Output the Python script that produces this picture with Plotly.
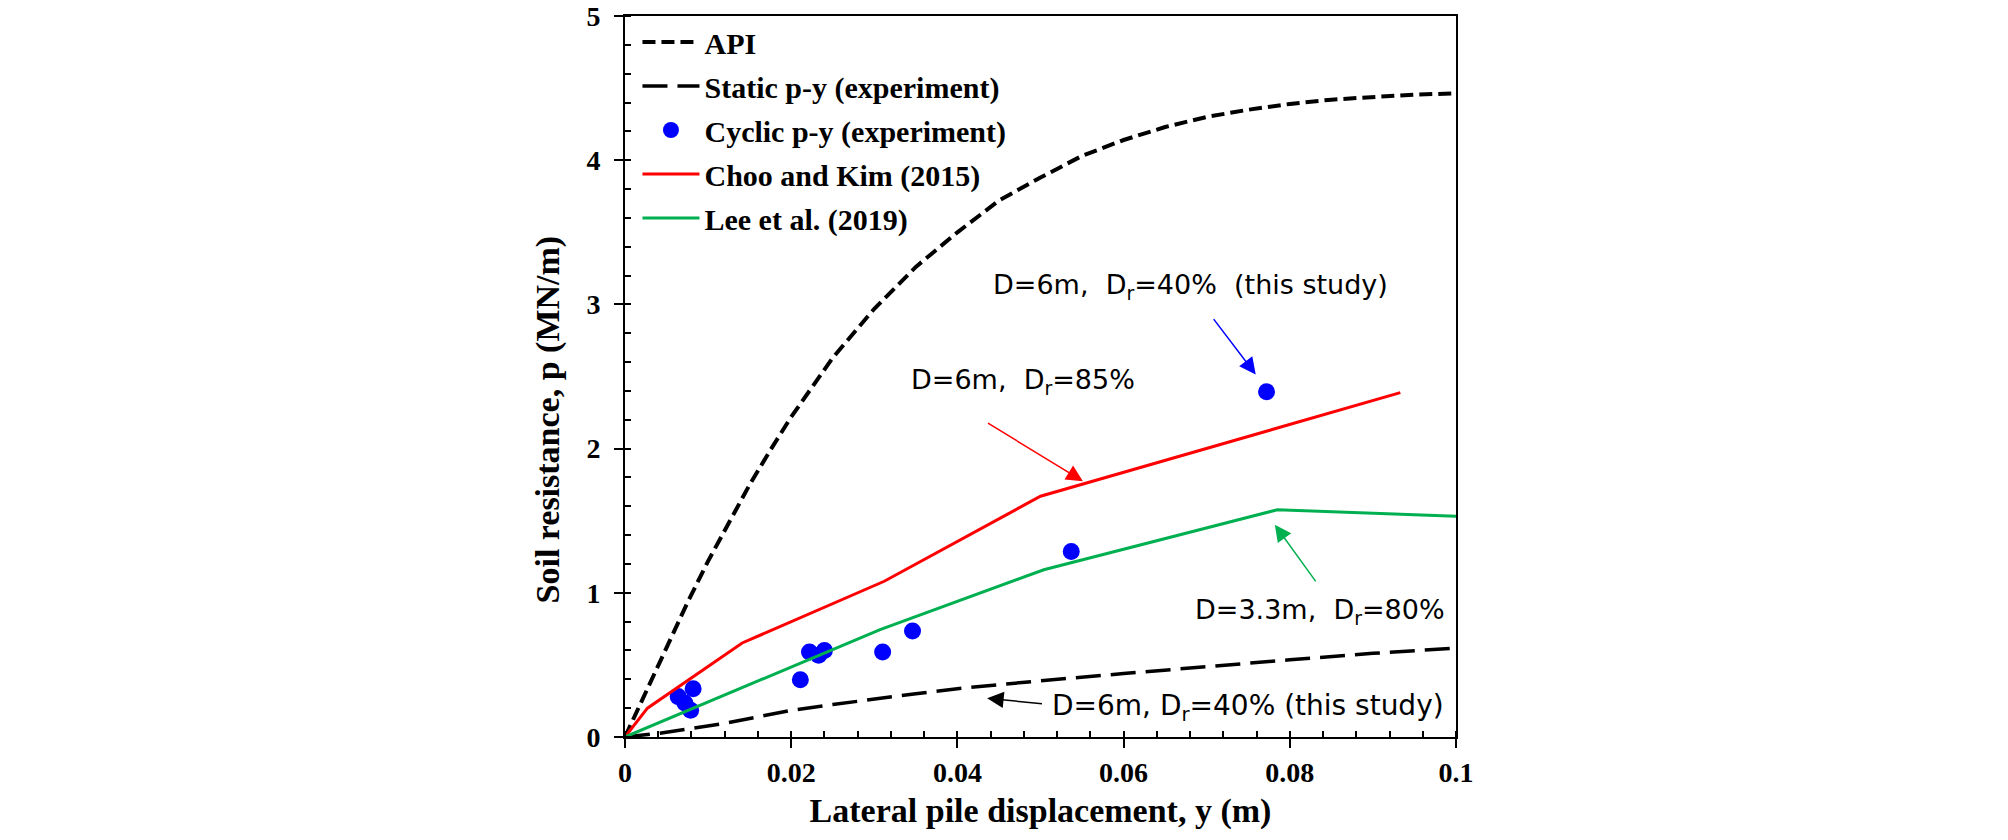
import plotly.graph_objects as go

# ---------------- data ----------------
api_x = [0, 0.0025, 0.005, 0.0075, 0.01, 0.0125, 0.015, 0.0175, 0.02, 0.025, 0.03, 0.035,
         0.04, 0.045, 0.05, 0.055, 0.06, 0.065, 0.07, 0.075, 0.08, 0.085, 0.09, 0.095, 0.1]
api_p = [0, 0.31, 0.62, 0.93, 1.22, 1.49, 1.75, 1.99, 2.22, 2.63, 2.97, 3.26,
         3.50, 3.72, 3.88, 4.03, 4.14, 4.23, 4.30, 4.35, 4.39, 4.42, 4.44, 4.455, 4.463]

static_x = [0, 0.004, 0.008, 0.012, 0.016, 0.02, 0.025, 0.03, 0.035, 0.04, 0.045, 0.05,
            0.06, 0.07, 0.08, 0.09, 0.1]
static_p = [0, 0.025, 0.06, 0.095, 0.14, 0.185, 0.225, 0.265, 0.30, 0.335, 0.365, 0.39,
            0.44, 0.49, 0.535, 0.58, 0.617]

cyclic_x = [0.0064, 0.0082, 0.0072, 0.0079, 0.0211, 0.0222, 0.0233, 0.0240, 0.0310, 0.0346, 0.0537, 0.0772]
cyclic_p = [0.280, 0.335, 0.235, 0.185, 0.397, 0.589, 0.567, 0.600, 0.590, 0.735, 1.287, 2.394]

choo_x = [0, 0.0027, 0.0141, 0.0312, 0.050, 0.0933]
choo_p = [0, 0.20, 0.652, 1.08, 1.67, 2.388]

lee_x = [0, 0.0307, 0.0504, 0.0785, 0.1]
lee_p = [0, 0.745, 1.16, 1.576, 1.53]

x_ticks = [0, 0.02, 0.04, 0.06, 0.08, 0.1]
x_ticklabels = ["0", "0.02", "0.04", "0.06", "0.08", "0.1"]
y_ticks = [0, 1, 2, 3, 4, 5]
y_ticklabels = ["0", "1", "2", "3", "4", "5"]

x_title = "Lateral pile displacement, y (m)"
y_title = "Soil resistance, p (MN/m)"

# annotation labels: (text, x, y, font size)
labels = [
    ("D=6m,\u00a0\u00a0D<sub>r</sub>=40%\u00a0\u00a0(this study)", 0.0680, 3.125, 27),
    ("D=6m,\u00a0\u00a0D<sub>r</sub>=85%", 0.0479, 2.468, 27),
    ("D=3.3m,\u00a0\u00a0D<sub>r</sub>=80%", 0.0836, 0.868, 27),
    ("D=6m,\u00a0D<sub>r</sub>=40%\u00a0(this study)", 0.0750, 0.208, 28),
]
# arrows: (head_x, head_y, tail_x, tail_y, colour)
arrows = [
    (0.0759, 2.514, 0.0707, 2.908, "#0000FF"),
    (0.0551, 1.774, 0.0435, 2.183, "#FF0000"),
    (0.0782, 1.472, 0.08325, 1.069, "#00B050"),
    (0.04358, 0.269, 0.05036, 0.229, "#000000"),
]

SERIF = "Liberation Serif, Times New Roman, serif"
SANS = "DejaVu Sans, Verdana, sans-serif"

fig = go.Figure()
fig.add_trace(go.Scatter(x=api_x, y=api_p, mode="lines", name="API",
                         line=dict(color="black", width=4, dash="13px,6px"),
                         legendgroup="a"))
fig.add_trace(go.Scatter(x=static_x, y=static_p, mode="lines", name="Static p-y (experiment)",
                         line=dict(color="black", width=3.5, dash="25px,10px"),
                         legendgroup="b"))
fig.add_trace(go.Scatter(x=cyclic_x, y=cyclic_p, mode="markers", name="Cyclic p-y (experiment)",
                         marker=dict(color="#0000FF", size=17, line=dict(width=0)),
                         legendgroup="c"))
fig.add_trace(go.Scatter(x=choo_x, y=choo_p, mode="lines", name="Choo and Kim (2015)",
                         line=dict(color="#FF0000", width=3),
                         legendgroup="d"))
fig.add_trace(go.Scatter(x=lee_x, y=lee_p, mode="lines", name="Lee et al. (2019)",
                         line=dict(color="#00B050", width=3),
                         legendgroup="e"))

annotations = []
for text, x, y, fs in labels:
    annotations.append(dict(x=x, y=y, xref="x", yref="y", text=text, showarrow=False,
                            xanchor="center", yanchor="middle",
                            font=dict(family=SANS, size=fs, color="black")))
for hx, hy, tx, ty, col in arrows:
    annotations.append(dict(x=hx, y=hy, ax=tx, ay=ty, xref="x", yref="y", axref="x", ayref="y",
                            text="", showarrow=True, arrowhead=2, arrowsize=2.2,
                            arrowwidth=1.5, arrowcolor=col, standoff=0, startstandoff=0))
# y-axis title (placed slightly below the axis centre as in the reference)
annotations.append(dict(x=-0.093, y=0.44, xref="paper", yref="paper", text=y_title,
                        showarrow=False, textangle=-90, xanchor="center", yanchor="middle",
                        font=dict(family=SERIF, size=34, color="black", weight="bold")))

axis_common = dict(showgrid=False, zeroline=False, showline=True, linecolor="black",
                   linewidth=2, mirror=True, ticks="outside", ticklen=9, tickwidth=2,
                   tickcolor="black", automargin=False, ticklabeloverflow="allow",
                   tickfont=dict(family=SERIF, size=28, color="black", weight="bold"))

fig.update_layout(
    width=2008, height=840,
    margin=dict(l=625, r=552, t=16, b=103),
    paper_bgcolor="white", plot_bgcolor="white",
    showlegend=True,
    legend=dict(x=0.015, y=1.0, xanchor="left", yanchor="top",
                bgcolor="rgba(0,0,0,0)", borderwidth=0,
                font=dict(family=SERIF, size=30, color="black", weight="bold"),
                itemwidth=57, tracegroupgap=2, traceorder="grouped"),
    xaxis=dict(range=[0, 0.1], tickvals=x_ticks, ticktext=x_ticklabels,
               title=dict(text=x_title, standoff=12,
                          font=dict(family=SERIF, size=34, color="black", weight="bold")),
               minor=dict(dtick=0.004, ticks="inside", ticklen=6, tickwidth=2, tickcolor="black"),
               ticklabelstandoff=0,
               **axis_common),
    yaxis=dict(range=[0, 5], tickvals=y_ticks, ticktext=y_ticklabels,
               minor=dict(dtick=0.2, ticks="inside", ticklen=6, tickwidth=2, tickcolor="black"),
               ticklabelstandoff=8,
               **axis_common),
    annotations=annotations,
)

# remove the default 8px page margin so the 2008x840 figure fills the window exactly
fig.write_html("out.html",
               config={"displayModeBar": False},
               post_script="document.body.style.margin='0';document.body.style.overflow='hidden';")
